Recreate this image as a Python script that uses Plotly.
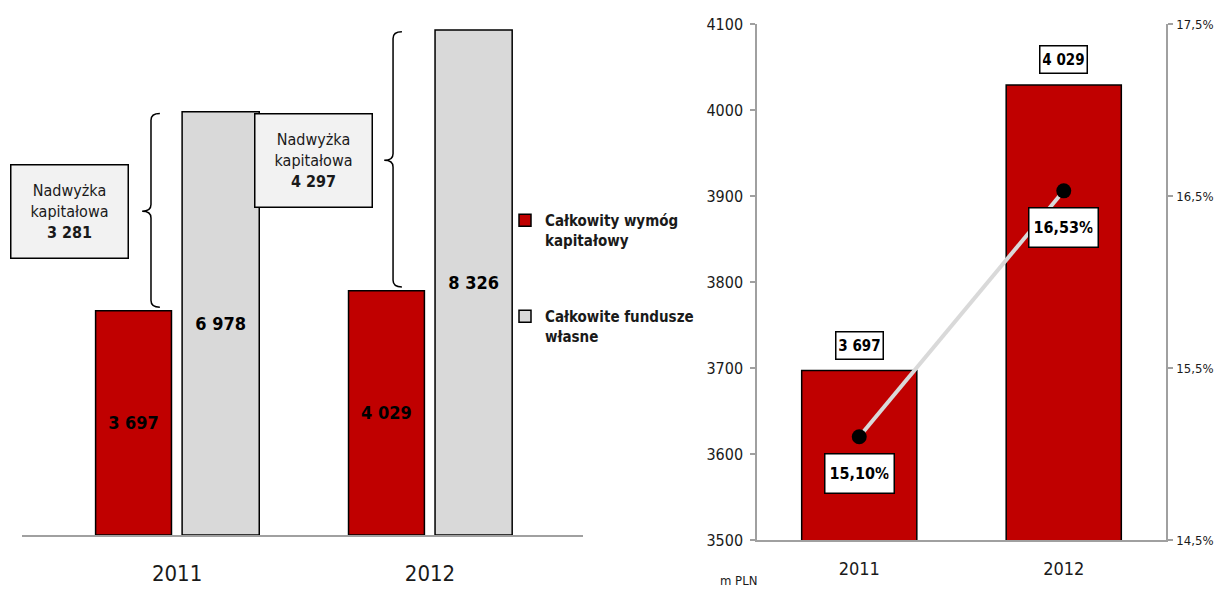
import plotly.graph_objects as go

# ---- data ----
years = ["2011", "2012"]
wymog = [3697, 4029]            # Całkowity wymóg kapitałowy (mln PLN)
fundusze = [6978, 8326]         # Całkowite fundusze własne (mln PLN)
nadwyzka = [3281, 4297]         # Nadwyżka kapitałowa
wsp = [15.10, 16.53]            # współczynnik wypłacalności (%)
y2_ticks = [3500, 3600, 3700, 3800, 3900, 4000, 4100]
y3_ticks = [14.5, 15.5, 16.5, 17.5]
y3_ticktext = ["14,5%", "15,5%", "16,5%", "17,5%"]

RED = "#C00000"
GREY = "#D9D9D9"
AXIS = "#A0A0A0"
TXT = "#1a1a1a"
FONT = "Liberation Sans Narrow, Arial Narrow, DejaVu Sans Condensed, sans-serif"

O = 8                      # page body margin (px)
W, H = 1225 - 2 * O, 597 - 2 * O
xs = list(range(len(years)))


def px(v):
    return (v - O) / W


def py(v):
    return 1 - (v - O) / H


def fmt(v):
    return f"{v:,}".replace(",", " ")


def pct(v):
    return f"{v:.2f}".replace(".", ",") + "%"


fig = go.Figure()

# ---- left panel ----
fig.add_trace(go.Bar(
    x=xs, y=wymog, name="Całkowity wymóg<br>kapitałowy",
    marker=dict(color=RED, line=dict(color="black", width=1.5)),
    width=0.300, offset=-0.322,
    text=[fmt(v) for v in wymog], textposition="inside", insidetextanchor="middle",
    textfont=dict(family=FONT, size=18, color="black", weight="bold"),
    xaxis="x", yaxis="y", legendgroup="a", hoverinfo="skip"))
fig.add_trace(go.Bar(
    x=xs, y=fundusze, name="Całkowite fundusze<br>własne",
    marker=dict(color=GREY, line=dict(color="black", width=1.5)),
    width=0.305, offset=0.02,
    text=[fmt(v) for v in fundusze], textposition="inside", insidetextanchor="middle",
    textfont=dict(family=FONT, size=18, color="black", weight="bold"),
    xaxis="x", yaxis="y", legendgroup="b", hoverinfo="skip"))

# ---- right panel ----
fig.add_trace(go.Bar(
    x=xs, y=wymog, showlegend=False,
    marker=dict(color=RED, line=dict(color="black", width=1.5)),
    width=0.563, offset=-0.2815,
    xaxis="x2", yaxis="y2", hoverinfo="skip"))
fig.add_trace(go.Scatter(
    x=xs, y=wsp, mode="lines+markers", showlegend=False,
    line=dict(color=GREY, width=4),
    marker=dict(color="black", size=15),
    xaxis="x2", yaxis="y3", hoverinfo="skip"))

shapes = []
annotations = []

# braces + callout boxes (left panel)
brace_x = [-0.103, -0.146]
box_right = [-0.19, -0.225]
for i in xs:
    top = fundusze[i] - 30
    bot = wymog[i] + 60
    mid = (fundusze[i] + wymog[i]) / 2
    xl = i + brace_x[i]
    xr = xl + 0.035
    xt = xl - 0.035
    d = 110
    path = (f"M {xr},{top} Q {xl},{top} {xl},{top - d} L {xl},{mid + d} "
            f"Q {xl},{mid} {xt},{mid} Q {xl},{mid} {xl},{mid - d} "
            f"L {xl},{bot + d} Q {xl},{bot} {xr},{bot}")
    shapes.append(dict(type="path", path=path, xref="x", yref="y",
                       line=dict(color="black", width=1.5)))
    annotations.append(dict(
        x=i + box_right[i], y=mid, xref="x", yref="y", xanchor="right", yanchor="middle",
        text=f"Nadwyżka<br>kapitałowa<br><b>{fmt(nadwyzka[i])}</b>",
        showarrow=False, align="center",
        font=dict(family=FONT, size=16, color=TXT),
        bgcolor="#F2F2F2", bordercolor="black", borderwidth=1.5,
        width=110, height=86, borderpad=3))

# right panel value labels
for i in xs:
    annotations.append(dict(
        x=i, y=wymog[i], xref="x2", yref="y2", yanchor="bottom", yshift=11,
        text=f"<b>{fmt(wymog[i])}</b>", showarrow=False,
        font=dict(family=FONT, size=15, color="black"),
        width=42, height=22,
        bgcolor="white", bordercolor="black", borderwidth=1.5, borderpad=2))
    annotations.append(dict(
        x=i, y=wsp[i], xref="x2", yref="y3", yanchor="top", yshift=-16,
        text=f"<b>{pct(wsp[i])}</b>", showarrow=False,
        font=dict(family=FONT, size=16, color="black"),
        width=58, height=28,
        bgcolor="white", bordercolor="black", borderwidth=1.5, borderpad=5))

annotations.append(dict(
    x=px(738), y=py(580), xref="paper", yref="paper", xanchor="center", yanchor="middle",
    text="m PLN", showarrow=False, font=dict(family=FONT, size=13, color=TXT)))

scale = 505 / 8326
fig.update_layout(
    template="none",
    width=W, height=H,
    margin=dict(l=0, r=0, t=0, b=0, autoexpand=False),
    paper_bgcolor="white", plot_bgcolor="white",
    barmode="overlay",
    separators=", ",
    font=dict(family=FONT, color=TXT),
    showlegend=True,
    legend=dict(x=px(505), y=py(204), xanchor="left", yanchor="top",
                traceorder="grouped", tracegroupgap=54, valign="top",
                font=dict(family=FONT, size=15, color=TXT, weight="bold"),
                itemwidth=30, bgcolor="rgba(0,0,0,0)", borderwidth=0),
    xaxis=dict(domain=[px(22), px(583)], range=[-0.613, 1.605], automargin=False,
               tickvals=xs, ticktext=years, showgrid=False, zeroline=False,
               showline=True, linecolor=AXIS, linewidth=1.5, ticks="",
               tickfont=dict(family=FONT, size=22, color=TXT), ticklabelstandoff=18),
    yaxis=dict(domain=[py(535), py(10)], range=[0, (535 - 10) / scale],
               automargin=False, visible=False, showgrid=False, zeroline=False),
    xaxis2=dict(domain=[px(757), px(1166)], range=[-0.5, 1.5], anchor="y2", automargin=False,
                tickvals=xs, ticktext=years, showgrid=False, zeroline=False,
                showline=True, linecolor=AXIS, linewidth=1.5, ticks="",
                tickfont=dict(family=FONT, size=18, color=TXT), ticklabelstandoff=12),
    yaxis2=dict(domain=[py(540), py(24)], range=[3500, 4100], anchor="x2",
                automargin=False,
                tickvals=y2_ticks, showgrid=False, zeroline=False,
                showline=True, linecolor=AXIS, linewidth=1.5,
                ticks="outside", ticklen=5, tickcolor=AXIS, tickwidth=1.5,
                ticklabelstandoff=4,
                tickfont=dict(family=FONT, size=16, color=TXT)),
    yaxis3=dict(domain=[py(540), py(24)], range=[14.5, 17.5], anchor="x2",
                overlaying="y2", side="right", automargin=False,
                tickvals=y3_ticks, ticktext=y3_ticktext,
                showgrid=False, zeroline=False,
                showline=True, linecolor=AXIS, linewidth=1.5,
                ticks="outside", ticklen=5, tickcolor=AXIS, tickwidth=1.5,
                ticklabelstandoff=1,
                tickfont=dict(family=FONT, size=13, color=TXT)),
    shapes=shapes,
    annotations=annotations,
)

fig.write_html("out.html")
